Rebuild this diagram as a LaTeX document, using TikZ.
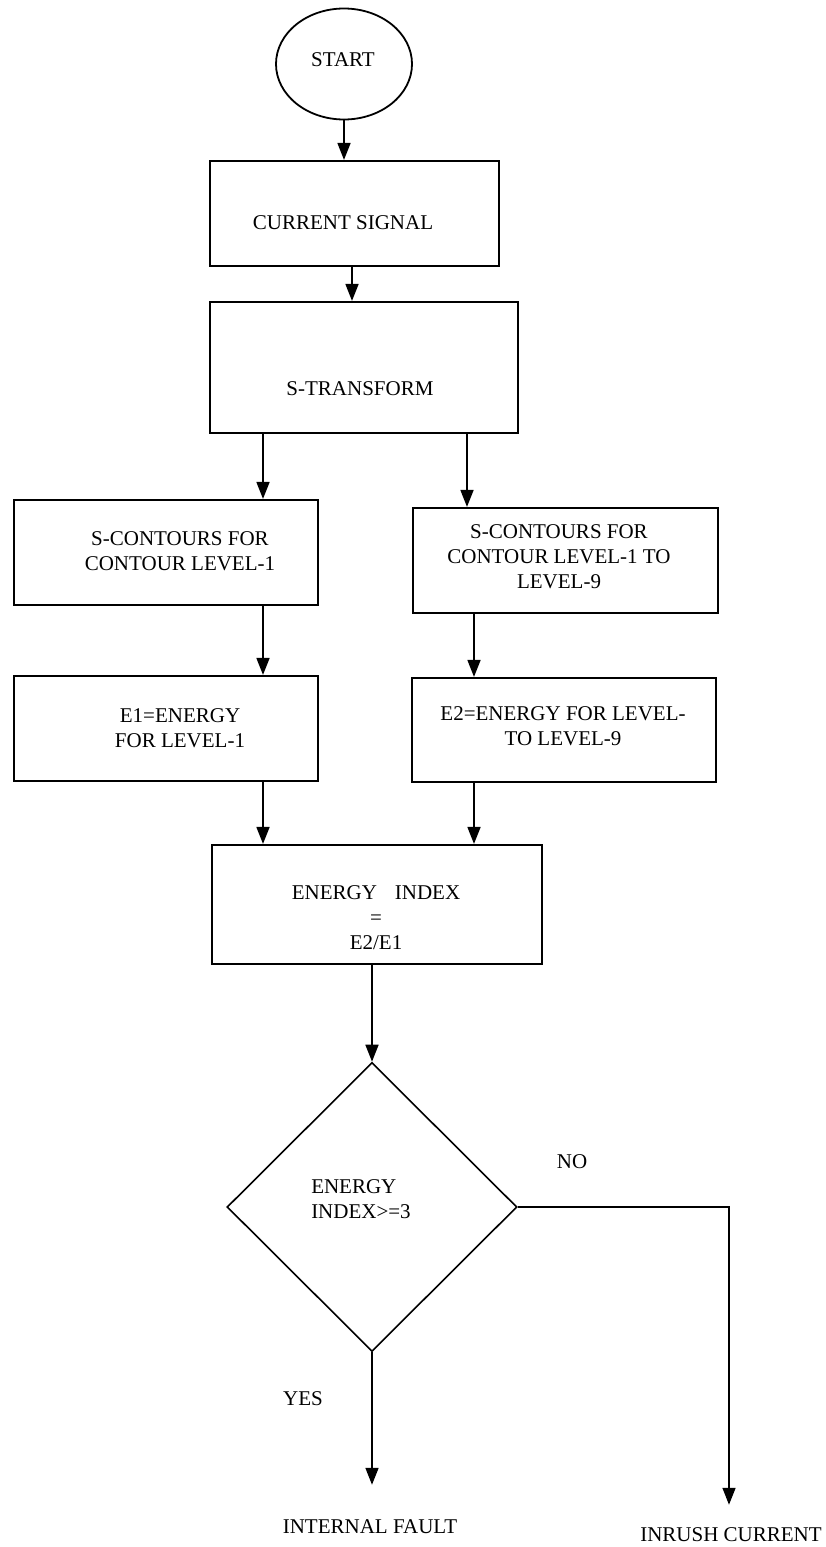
\documentclass[tikz,border=0pt]{standalone}
\usepackage{fontspec}
\setmainfont{Liberation Serif}
\usetikzlibrary{arrows.meta,shapes.geometric,calc}
\begin{document}
\begin{tikzpicture}[x=1pt,y=-1pt,
  font=\fontsize{21}{25}\selectfont,
  box/.style={draw,line width=2.2pt,inner sep=0pt},
  txt/.style={inner sep=0pt,align=center},
  arr/.style={line width=1.7pt,-{Triangle[length=17pt,width=13pt]}}]
\useasboundingbox (0,0) rectangle (825,1547);

% shapes
\node[draw,ellipse,line width=1.8pt,inner sep=0pt,minimum width=136pt,minimum height=111pt] (start) at (344,64) {};
\node[box,minimum width=289pt,minimum height=105pt] (cs)  at (354.5,213.5) {};
\node[box,minimum width=308pt,minimum height=131pt] (st)  at (364,367.5) {};
\node[box,minimum width=304pt,minimum height=105pt] (sc1) at (166,552.5) {};
\node[box,minimum width=305pt,minimum height=105pt] (sc2) at (565.5,560.5) {};
\node[box,minimum width=304pt,minimum height=105pt] (e1)  at (166,728.5) {};
\node[box,minimum width=304pt,minimum height=104pt] (e2)  at (564,730) {};
\node[box,minimum width=330pt,minimum height=119pt] (ei)  at (377,904.5) {};
\node[draw,diamond,line width=1.6pt,inner sep=0pt,minimum width=290pt,minimum height=289pt] (dia) at (372,1207) {};

% texts
\node[txt] (t-start) at (343,60) {START};
\node[txt] (t-cs) at (343,223) {CURRENT SIGNAL};
\node[txt] (t-st) at (360,389) {S-TRANSFORM};
\node[txt] (t-sc1) at (180,551.5) {S-CONTOURS FOR\\CONTOUR LEVEL-1};
\node[txt] (t-sc2) at (559,557) {S-CONTOURS FOR\\CONTOUR LEVEL-1 TO\\LEVEL-9};
\node[txt] (t-e1) at (180,728) {E1=ENERGY\\FOR LEVEL-1};
\node[txt] (t-e2) at (563,726.5) {E2=ENERGY FOR LEVEL-\\TO LEVEL-9};
\node[txt] (t-ei) at (376,918) {ENERGY\hspace{18pt}INDEX\\=\\E2/E1};
\node[txt,align=left] (t-dia) at (361,1199.5) {ENERGY\\INDEX>=3};
\node[txt] (no) at (572,1162) {NO};
\node[txt] (yes) at (303,1399) {YES};
\node[txt] (if) at (370,1527) {INTERNAL FAULT};
\node[txt] (ir) at (731,1535) {INRUSH CURRENT};

% arrow columns
\coordinate (xM2) at (352,0);
\coordinate (xL) at (263,0);
\coordinate (xR1) at (467,0);
\coordinate (xR2) at (474,0);

% connectors
\draw[arr] (start.south) -- (start.south |- cs.north);
\draw[arr] (cs.south -| xM2) -- (st.north -| xM2);
\draw[arr] (st.south -| xL) -- (sc1.north -| xL);
\draw[arr] (st.south -| xR1) -- (sc2.north -| xR1);
\draw[arr] (sc1.south -| xL) -- (e1.north -| xL);
\draw[arr] (sc2.south -| xR2) -- (e2.north -| xR2);
\draw[arr] (e1.south -| xL) -- (ei.north -| xL);
\draw[arr] (e2.south -| xR2) -- (ei.north -| xR2);
\draw[arr] (ei.south -| dia.north) -- (dia.north);
\draw[arr] (dia.east) -| ($(ir.north)+(-2,-23)$);
\draw[arr] (dia.south) -- ($(dia.south |- if.north)+(0,-35)$);
\end{tikzpicture}
\end{document}
